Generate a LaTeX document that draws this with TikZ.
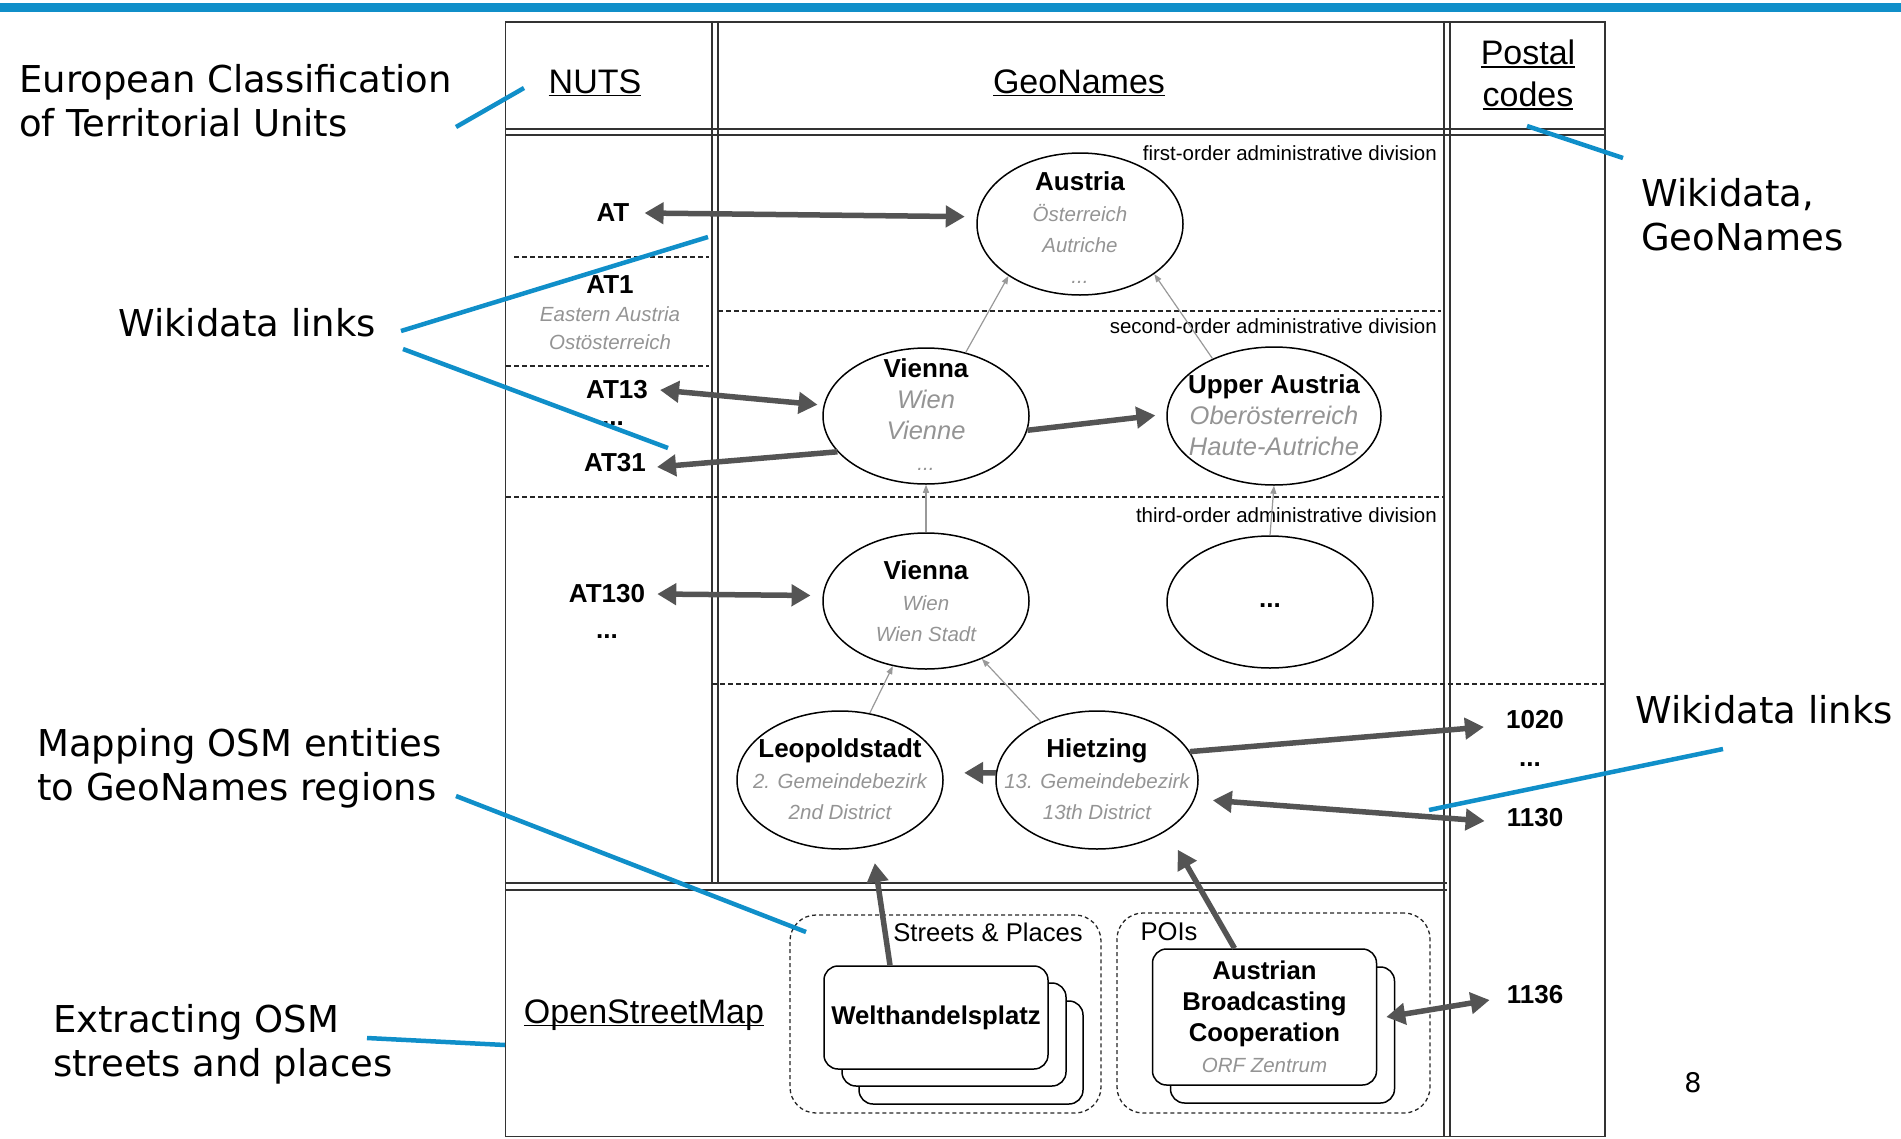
\documentclass[tikz,border=0pt]{standalone}
\usepackage{fontspec}
\setmainfont{Liberation Sans}
\newfontfamily\remarkfont{DejaVu Sans}
\usepackage{tikz}
\usetikzlibrary{shapes.geometric,arrows.meta,positioning}

\definecolor{slideblue}{RGB}{16,143,201}
\definecolor{altgrey}{gray}{0.58}
\definecolor{linkgrey}{gray}{0.33}
\definecolor{parentgrey}{gray}{0.6}
\definecolor{framegrey}{gray}{0.2}

\newcommand{\hdul}[1]{\setbox0\hbox{#1}\rlap{\rule[-3pt]{\wd0}{1.5pt}}\box0}
\newcommand{\altname}[1]{{\normalfont\fontsize{20.5}{31}\selectfont\itshape\color{altgrey}#1}}
\newcommand{\altnamebig}[1]{{\normalfont\fontsize{25.5}{31}\selectfont\itshape\color{altgrey}#1}}

\tikzstyle{gridline} = [draw=framegrey, line width=1.6pt]
\tikzstyle{levelline} = [draw=black!85, line width=1.4pt, dash pattern=on 5pt off 3pt]
\tikzstyle{heading} = [inner sep=0pt, font=\fontsize{34}{42}\selectfont]
\tikzstyle{levelnote} = [anchor=east, inner sep=0pt, font=\fontsize{20.5}{24}\selectfont]
\tikzstyle{idlabel} = [inner sep=1pt, font=\fontsize{26}{31}\selectfont\bfseries]
\tikzstyle{region} = [ellipse, draw=black, line width=1.5pt, minimum width=206pt, minimum height=136pt, inner sep=0pt]
\tikzstyle{regiontext} = [align=center, inner sep=0pt, font=\fontsize{26}{31}\selectfont\bfseries]
\tikzstyle{osmgroup} = [rectangle, rounded corners=26pt, draw=black!85, line width=1.3pt, dash pattern=on 4pt off 3pt]
\tikzstyle{grouptitle} = [inner sep=0pt, font=\fontsize{25.6}{30}\selectfont]
\tikzstyle{card} = [rectangle, rounded corners=14pt, draw=black, line width=1.5pt, fill=white, minimum width=224pt, minimum height=103pt, align=center, inner sep=2pt, font=\fontsize{25.7}{31}\selectfont\bfseries]
\tikzstyle{remark} = [anchor=west, align=left, inner sep=0pt, font=\remarkfont\fontsize{37}{44}\selectfont]
\tikzstyle{wdarrow} = [line width=5.5pt, draw=linkgrey, >={Triangle[length=19pt,width=21pt]}]
\tikzstyle{parentarrow} = [line width=1.2pt, draw=parentgrey, >={Triangle[length=8pt,width=6pt]}]
\tikzstyle{bluenote} = [draw=slideblue, line width=4.5pt]

\begin{document}
\begin{tikzpicture}[x=1pt,y=-1pt]

	\useasboundingbox (0,0) rectangle (1901,1138);
	\fill [slideblue] (0,3) rectangle (1901,12);

	\draw [gridline] (505.5,22) rectangle (1605,1136.5);
	\draw [gridline] (712,22) -- (712,883) (718,22) -- (718,883);
	\draw [gridline] (1444,22) -- (1444,1136.5) (1450,22) -- (1450,1136.5);
	\draw [gridline] (505.5,129) -- (1605,129) (505.5,135) -- (1605,135);
	\draw [gridline] (505.5,883) -- (1447,883) (505.5,890) -- (1447,890);

	\draw [levelline] (514,257) -- (709,257);
	\draw [levelline] (506,366) -- (709,366);
	\draw [levelline] (718,311) -- (1441,311);
	\draw [levelline] (506,497) -- (1444,497);
	\draw [levelline] (712,684) -- (1604,684);

	\node (nuts) [heading, anchor=base] at (595,93) {\hdul{NUTS}};
	\node (geonames) [heading, anchor=base] at (1079,93) {\hdul{GeoNames}};
	\node (postal) [heading, align=center] at (1528,75) {\hdul{Postal}\\\hdul{codes}};
	\node (osm) [heading, anchor=base] at (644,1023) {\hdul{OpenStreetMap}};

	\node (first-order) [levelnote] at (1437,153) {first-order administrative division};
	\node (second-order) [levelnote] at (1437,326) {second-order administrative division};
	\node (third-order) [levelnote] at (1437,515) {third-order administrative division};

	\node (austria) [region, minimum height=142pt] at (1080,224) {};
	\node (vienna) [region] at (926,416) {};
	\node (upper) [region, minimum width=214pt, minimum height=138pt] at (1274,416) {};
	\node (viennacity) [region] at (926,601) {};
	\node (more) [region, minimum height=132pt] at (1270,602) {};
	\node (leopold) [region, minimum height=138pt] at (840,780) {};
	\node (hietzing) [region, minimum width=202pt, minimum height=138pt] at (1097,780) {};

	\node (austria-txt) [regiontext] at (1080,227.5) {Austria\\\altname{Österreich}\\\altname{Autriche}\\\altname{...}};
	\node (vienna-txt) [regiontext] at (926,415) {Vienna\\\altnamebig{Wien}\\\altnamebig{Vienne}\\\altname{...}};
	\node (upper-txt) [regiontext] at (1274,415) {Upper Austria\\\altnamebig{Oberösterreich}\\\altnamebig{Haute-Autriche}};
	\node (viennacity-txt) [regiontext] at (926,601) {Vienna\\\altname{Wien}\\\altname{Wien Stadt}};
	\node (more-txt) [regiontext] at (1270,606) {...};
	\node (leopold-txt) [regiontext] at (840,779) {Leopoldstadt\\\altname{2. Gemeindebezirk}\\\altname{2nd District}};
	\node (hietzing-txt) [regiontext] at (1097,779) {Hietzing\\\altname{13. Gemeindebezirk}\\\altname{13th District}};

	\node (at) [idlabel] at (613,213) {AT};
	\node (at1) [idlabel, align=center, font=\fontsize{26}{28}\selectfont\bfseries] at (610,313) {AT1\\\altname{Eastern Austria}\\\altname{Ostösterreich}};
	\node (at13) [idlabel] at (617,390) {AT13};
	\node (at-dots) [idlabel] at (613,424) {...};
	\node (at31) [idlabel] at (615,463) {AT31};
	\node (at130) [idlabel] at (607,594) {AT130};
	\node (at130-dots) [idlabel] at (607,637) {...};

	\node (p1020) [idlabel] at (1535,720) {1020};
	\node (p-dots) [idlabel] at (1530,765) {...};
	\node (p1130) [idlabel] at (1535,818) {1130};
	\node (p1136) [idlabel] at (1535,995) {1136};

	\node (streets) [osmgroup, minimum width=311pt, minimum height=198pt] at (945.5,1014) {};
	\node (pois) [osmgroup, minimum width=313pt, minimum height=200pt] at (1273.5,1013) {};
	\node (streets-title) [grouptitle] at (988,932) {Streets \& Places};
	\node (pois-title) [grouptitle] at (1169,932) {POIs};

	\coordinate (welt-pos) at (936,1017.5);
	\node (welt-back2) [card] at ([xshift=35pt,yshift=-35pt]welt-pos) {};
	\node (welt-back1) [card] at ([xshift=18pt,yshift=-17pt]welt-pos) {};
	\node (welt) [card] at (welt-pos) {Welthandelsplatz};

	\coordinate (abc-pos) at (1264.5,1017);
	\node (abc-back) [card, minimum height=136pt] at ([xshift=18pt,yshift=-18pt]abc-pos) {};
	\node (abc) [card, minimum height=136pt] at (abc-pos) {Austrian\\Broadcasting\\Cooperation\\\altname{ORF Zentrum}};

	\draw [parentarrow, ->] (vienna.58) -- (austria.216);
	\draw [parentarrow, ->] (upper.137) -- (austria.326);
	\draw [parentarrow, ->] (viennacity.north) -- (vienna.south);
	\draw [parentarrow, ->] (more.north) -- (upper.south);
	\draw [parentarrow, ->] (leopold.66) -- (viennacity.243);
	\draw [parentarrow, ->] (hietzing.134) -- (viennacity.314);

	\draw [wdarrow, <->, shorten >=12pt] ([xshift=14pt]at.east) -- (austria.176);
	\draw [wdarrow, <->, shorten >=6pt] ([xshift=11pt]at13.east) -- (vienna.174);
	\draw [wdarrow, ->] (vienna.202) -- ([xshift=10pt,yshift=-4pt]at31.east);
	\draw [wdarrow, ->, shorten >=11pt] (vienna.352) -- (upper.179);
	\draw [wdarrow, <->, shorten >=12pt] ([xshift=11pt]at130.east) -- (viennacity.177);
	\draw [wdarrow, ->] (hietzing.17) -- ([xshift=-21pt,yshift=-7pt]p1020.west);
	\draw [wdarrow, ->, shorten >=21pt] (hietzing.176) -- (leopold.4);
	\draw [wdarrow, <->, shorten <=18pt] (hietzing.349) -- ([xshift=-21pt,yshift=-3pt]p1130.west);
	\draw [wdarrow, ->, shorten >=17pt] ([xshift=-46pt]welt.north) -- (leopold.296);
	\draw [wdarrow, ->, shorten >=22pt] ([xshift=-30pt]abc.north) -- (hietzing.324);
	\draw [wdarrow, <->] ([xshift=9pt]abc.east) -- ([xshift=-16pt,yshift=-5pt]p1136.west);

	\node (euro-note) [remark] at (19,101) {European Classification\\of Territorial Units};
	\node (wiki-note) [remark] at (118,323) {Wikidata links};
	\node (mapping-note) [remark] at (37,768) {Mapping OSM entities\\to GeoNames regions};
	\node (extract-note) [remark] at (53,1044) {Extracting OSM\\streets and places};
	\node (wg-note) [remark] at (1641,215) {Wikidata,\\GeoNames};
	\node (wiki-note2) [remark] at (1635,710) {Wikidata links};
	\node (page) [inner sep=0pt, font=\remarkfont\fontsize{27}{32}\selectfont] at (1693,1083) {8};

	\coordinate (euro-a) at (456,127);
	\coordinate (euro-b) at (524,88);
	\coordinate (wiki-a) at (401,331);
	\coordinate (wiki-b) at (708,237);
	\coordinate (wiki-c) at (403,349);
	\coordinate (wiki-d) at (668,448);
	\coordinate (wg-a) at (1623,158);
	\coordinate (wg-b) at (1527,126);
	\coordinate (wiki-e) at (1723,749);
	\coordinate (wiki-f) at (1429,810);
	\coordinate (mapping-a) at (456,796);
	\coordinate (mapping-b) at (806,932);
	\coordinate (extract-a) at (367,1038);
	\coordinate (extract-b) at (505,1045);

	\draw [bluenote] (euro-a) -- (euro-b);
	\draw [bluenote] (wiki-a) -- (wiki-b);
	\draw [bluenote] (wiki-c) -- (wiki-d);
	\draw [bluenote] (wg-a) -- (wg-b);
	\draw [bluenote] (wiki-e) -- (wiki-f);
	\draw [bluenote] (mapping-a) -- (mapping-b);
	\draw [bluenote] (extract-a) -- (extract-b);

\end{tikzpicture}
\end{document}
